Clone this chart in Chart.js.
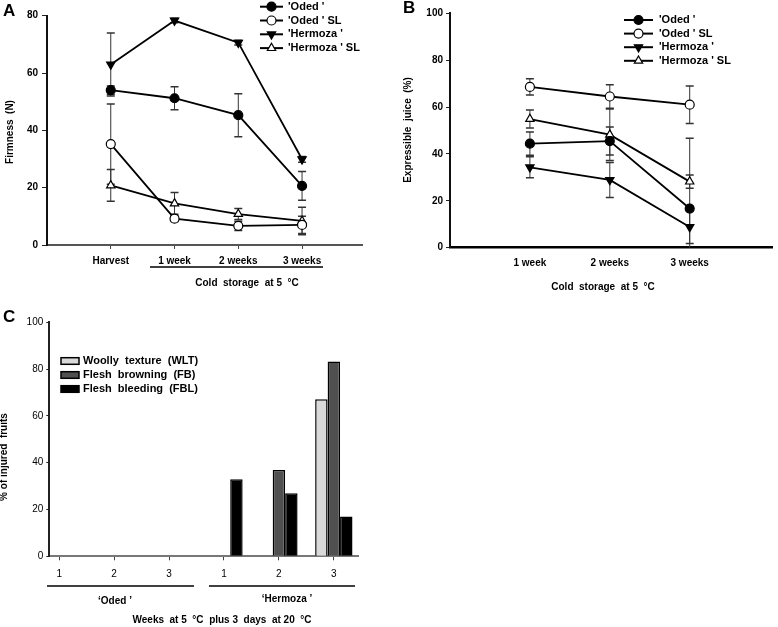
<!DOCTYPE html>
<html>
<head>
<meta charset="utf-8">
<script src="https://cdn.jsdelivr.net/npm/chart.js@4.4.0/dist/chart.umd.min.js"></script>
<style>
  body { margin: 0; background: #fff; width: 778px; height: 627px; position: relative; overflow: hidden; }
  .panel { position: absolute; }
</style>
</head>
<body>
<div class="panel" style="left:0;top:0"><canvas id="chartA" width="390" height="300"></canvas></div>
<div class="panel" style="left:390px;top:0"><canvas id="chartB" width="388" height="300"></canvas></div>
<div class="panel" style="left:0;top:300px"><canvas id="chartC" width="390" height="327"></canvas></div>
<script>
// ---- data ----
// A: firmness (N)
const weeksA = ['Harvest', '1 week', '2 weeks', '3 weeks'];
const firmOded = [54.0, 51.2, 45.3, 20.6];
const firmOdedErr = [1.5, 4, 7.5, 5];
const firmOdedSL = [35.2, 9.2, 6.7, 7.0];
const firmOdedSLErr = [14, 1, 1.6, 3];
const firmHerm = [63.0, 78.3, 70.6, 29.9];
const firmHermErr = [11, 0.8, 0.8, 1];
const firmHermSL = [20.8, 14.5, 10.8, 8.4];
const firmHermSLErr = [5.5, 3.8, 1.9, 4.8];

// B: expressible juice (%)
const weeksB = ['1 week', '2 weeks', '3 weeks'];
const juiceOded = [44.4, 45.5, 16.7];
const juiceOdedErr = [5, 6, 30];
const juiceOdedSL = [68.6, 64.5, 61.0];
const juiceOdedSLErr = [3.5, 5, 8];
const juiceHerm = [34.3, 28.9, 8.8];
const juiceHermErr = [4.5, 7.5, 7];
const juiceHermSL = [54.9, 48.2, 28.2];
const juiceHermSLErr = [3.8, 11, 2.8];

// C: % of injured fruits
const weeksC = ['1', '2', '3', '1', '2', '3'];
const woolly = [0, 0, 0, 0, 0, 67.1];
const browning = [0, 0, 0, 0, 36.9, 83.2];
const bleeding = [0, 0, 0, 32.9, 26.9, 17.0];

const FONT = '"Liberation Sans", Arial, Helvetica, sans-serif';
Chart.defaults.font.family = FONT;
Chart.defaults.font.size = 10;
Chart.defaults.font.weight = 'bold';
Chart.defaults.color = '#000';

// ---- helpers ----
function series(label, values, errors, style, fill, rot) {
  return {
    label: label,
    data: values.map((v, i) => ({ x: i, y: v })),
    errors: errors,
    borderColor: '#000',
    borderWidth: 1.8,
    pointStyle: style,
    pointRotation: rot,
    pointRadius: style === 'triangle' ? 4.8 : 4.5,
    pointBackgroundColor: fill,
    pointBorderColor: '#000',
    pointBorderWidth: 1.2,
    tension: 0
  };
}

// error bars under the markers
const errorBars = {
  id: 'errorBars',
  beforeDatasetsDraw(chart) {
    const ctx = chart.ctx, xs = chart.scales.x, ys = chart.scales.y;
    ctx.save();
    ctx.strokeStyle = '#333';
    chart.data.datasets.forEach(ds => {
      if (!ds.errors) return;
      ds.data.forEach((p, i) => {
        const e = ds.errors[i];
        const px = xs.getPixelForValue(p.x);
        const top = ys.getPixelForValue(p.y + e);
        const low = p.y - e;
        const bot = ys.getPixelForValue(Math.max(0, low));
        ctx.lineWidth = 1;
        ctx.beginPath();
        ctx.moveTo(px, top); ctx.lineTo(px, bot);
        ctx.stroke();
        ctx.lineWidth = 1.5;
        ctx.beginPath();
        ctx.moveTo(px - 4, top); ctx.lineTo(px + 4, top);
        if (low >= 0) { ctx.moveTo(px - 4, bot); ctx.lineTo(px + 4, bot); }
        ctx.stroke();
      });
    });
    ctx.restore();
  }
};

// legend drawn by hand: line + marker, or box
function makeLegend(cfg) {
  return {
    id: 'handLegend',
    afterDraw(chart) {
      const ctx = chart.ctx;
      chart.data.datasets.forEach((ds, i) => {
        const y = cfg.y + i * cfg.gap;
        ctx.save();
        if (cfg.box) {
          ctx.fillStyle = ds.backgroundColor;
          ctx.strokeStyle = '#000';
          ctx.lineWidth = 1.5;
          ctx.fillRect(cfg.x, y - 3.3, cfg.len, 6.6);
          ctx.strokeRect(cfg.x, y - 3.3, cfg.len, 6.6);
        } else {
          ctx.strokeStyle = '#000';
          ctx.lineWidth = 2;
          ctx.beginPath();
          ctx.moveTo(cfg.x, y); ctx.lineTo(cfg.x + cfg.len, y);
          ctx.stroke();
          ctx.fillStyle = ds.pointBackgroundColor;
          ctx.strokeStyle = ds.pointBorderColor;
          ctx.lineWidth = ds.pointBorderWidth;
          Chart.helpers.drawPoint(ctx, {
            pointStyle: ds.pointStyle, rotation: ds.pointRotation || 0,
            radius: ds.pointRadius, borderWidth: ds.pointBorderWidth
          }, cfg.x + cfg.len / 2, y);
        }
        ctx.fillStyle = '#000';
        ctx.font = 'bold ' + cfg.size + 'px ' + FONT;
        ctx.textAlign = 'left';
        ctx.textBaseline = 'middle';
        ctx.fillText(ds.label, cfg.textX, y);
        ctx.restore();
      });
    }
  };
}

// free text and underline strokes
function makeTexts(items, lines) {
  return {
    id: 'texts',
    afterDraw(chart) {
      const ctx = chart.ctx;
      items.forEach(it => {
        ctx.save();
        ctx.font = (it.weight || 'bold') + ' ' + (it.size || 10) + 'px ' + FONT;
        ctx.fillStyle = '#000';
        ctx.textAlign = it.align || 'center';
        ctx.textBaseline = 'middle';
        ctx.translate(it.x, it.y);
        if (it.rot) ctx.rotate(it.rot * Math.PI / 180);
        ctx.fillText(it.t, 0, 0);
        ctx.restore();
      });
      (lines || []).forEach(l => {
        ctx.save();
        ctx.strokeStyle = '#000';
        ctx.lineWidth = 1.5;
        ctx.beginPath();
        ctx.moveTo(l[0], l[2]); ctx.lineTo(l[1], l[2]);
        ctx.stroke();
        ctx.restore();
      });
    }
  };
}

function fixedWidth(w) { return s => { s.width = w; }; }
function fixedHeight(h) { return s => { s.height = h; }; }

// ---- A ----
new Chart(document.getElementById('chartA'), {
  type: 'line',
  data: {
    datasets: [
      series("'Oded '", firmOded, firmOdedErr, 'circle', '#000', 0),
      series("'Oded ' SL", firmOdedSL, firmOdedSLErr, 'circle', '#fff', 0),
      series("'Hermoza '", firmHerm, firmHermErr, 'triangle', '#000', 180),
      series("'Hermoza ' SL", firmHermSL, firmHermSLErr, 'triangle', '#fff', 0)
    ]
  },
  options: {
    responsive: false,
    animation: false,
    layout: { padding: { top: 15.7, right: 28, left: 0, bottom: 0 } },
    plugins: { legend: { display: false }, tooltip: { enabled: false } },
    scales: {
      x: {
        type: 'linear', min: -1, max: 3.94, offset: false,
        afterBuildTicks: s => { s.ticks = weeksA.map((_, i) => ({ value: i })); },
        afterFit: fixedHeight(55),
        ticks: { callback: v => weeksA[v], padding: 6, autoSkip: false, maxRotation: 0 },
        grid: { drawOnChartArea: false, tickLength: 4, tickColor: '#444', tickWidth: 1 },
        border: { color: '#555', width: 2 }
      },
      y: {
        min: 0, max: 80,
        afterFit: fixedWidth(47),
        ticks: { stepSize: 20, padding: 4 },
        grid: { drawOnChartArea: false, tickLength: 5, tickColor: '#222', tickWidth: 1 },
        border: { color: '#111', width: 2 }
      }
    }
  },
  plugins: [
    errorBars,
    makeLegend({ x: 260, len: 23, textX: 288, y: 6.7, gap: 13.8, size: 11 }),
    makeTexts([
      { t: 'A', x: 3, y: 11, size: 17, align: 'left' },
      { t: 'Firmness  (N)', x: 10, y: 132, rot: -90 },
      { t: 'Cold  storage  at 5  °C', x: 247, y: 283 }
    ], [[150, 323, 267]])
  ]
});

// ---- B ----
new Chart(document.getElementById('chartB'), {
  type: 'line',
  data: {
    datasets: [
      series("'Oded '", juiceOded, juiceOdedErr, 'circle', '#000', 0),
      series("'Oded ' SL", juiceOdedSL, juiceOdedSLErr, 'circle', '#fff', 0),
      series("'Hermoza '", juiceHerm, juiceHermErr, 'triangle', '#000', 180),
      series("'Hermoza ' SL", juiceHermSL, juiceHermSLErr, 'triangle', '#fff', 0)
    ]
  },
  options: {
    responsive: false,
    animation: false,
    layout: { padding: { top: 13.3, right: 1, left: 0, bottom: 0 } },
    plugins: { legend: { display: false }, tooltip: { enabled: false } },
    scales: {
      x: {
        type: 'linear', min: -1, max: 3.03, offset: false,
        afterBuildTicks: s => { s.ticks = weeksB.map((_, i) => ({ value: i })); },
        afterFit: fixedHeight(52.3),
        ticks: { callback: v => weeksB[v], padding: 10, autoSkip: false, maxRotation: 0 },
        grid: { drawOnChartArea: false, drawTicks: false },
        border: { color: '#000', width: 2.5 }
      },
      y: {
        min: 0, max: 100,
        afterFit: fixedWidth(60),
        ticks: { stepSize: 20, padding: 3 },
        grid: { drawOnChartArea: false, tickLength: 4, tickColor: '#222', tickWidth: 1 },
        border: { color: '#111', width: 2 }
      }
    }
  },
  plugins: [
    errorBars,
    makeLegend({ x: 234, len: 29, textX: 269, y: 20, gap: 13.6, size: 11 }),
    makeTexts([
      { t: 'B', x: 13, y: 8, size: 17, align: 'left' },
      { t: 'Expressible  juice  (%)', x: 18, y: 130, rot: -90 },
      { t: 'Cold  storage  at 5  °C', x: 213, y: 287 }
    ])
  ]
});

// ---- C ----
function bars(label, values, color) {
  return {
    label: label,
    data: values.map((v, i) => ({ x: i, y: v })),
    backgroundColor: color,
    borderColor: '#000',
    borderWidth: 1.5,
    borderSkipped: 'start'
  };
}

new Chart(document.getElementById('chartC'), {
  type: 'bar',
  data: {
    datasets: [
      bars('Woolly  texture  (WLT)', woolly, '#d9d9d9'),
      bars('Flesh  browning  (FB)', browning, '#505050'),
      bars('Flesh  bleeding  (FBL)', bleeding, '#000')
    ]
  },
  options: {
    responsive: false,
    animation: false,
    layout: { padding: { top: 22.3, right: 32, left: 0, bottom: 0 } },
    datasets: { bar: { categoryPercentage: 0.68, barPercentage: 1 } },
    plugins: { legend: { display: false }, tooltip: { enabled: false } },
    scales: {
      x: {
        type: 'linear', min: -0.18, max: 5.44, offset: false,
        afterBuildTicks: s => { s.ticks = weeksC.map((_, i) => ({ value: i })); },
        afterFit: fixedHeight(70.7),
        ticks: { callback: v => weeksC[v], padding: 8, autoSkip: false, maxRotation: 0, font: { weight: 'normal' } },
        grid: { drawOnChartArea: false, offset: false, tickLength: 4, tickColor: '#444', tickWidth: 1 },
        border: { color: '#777', width: 2 }
      },
      y: {
        min: 0, max: 100,
        afterFit: fixedWidth(49.3),
        ticks: { stepSize: 20, padding: 3, font: { weight: 'normal' } },
        grid: { drawOnChartArea: false, tickLength: 3, tickColor: '#222', tickWidth: 1 },
        border: { color: '#222', width: 2 }
      }
    }
  },
  plugins: [
    makeLegend({ x: 61, len: 18, textX: 83, y: 61, gap: 14, size: 11, box: true }),
    makeTexts([
      { t: 'C', x: 3, y: 17.5, size: 17, align: 'left' },
      { t: '% of injured  fruits', x: 4, y: 157, rot: -90 },
      { t: '‘Oded ’', x: 115, y: 301 },
      { t: '‘Hermoza ’', x: 287, y: 299 },
      { t: 'Weeks  at 5  °C  plus 3  days  at 20  °C', x: 222, y: 320 }
    ], [[47, 194, 286], [209, 355, 286]])
  ]
});
</script>
</body>
</html>
